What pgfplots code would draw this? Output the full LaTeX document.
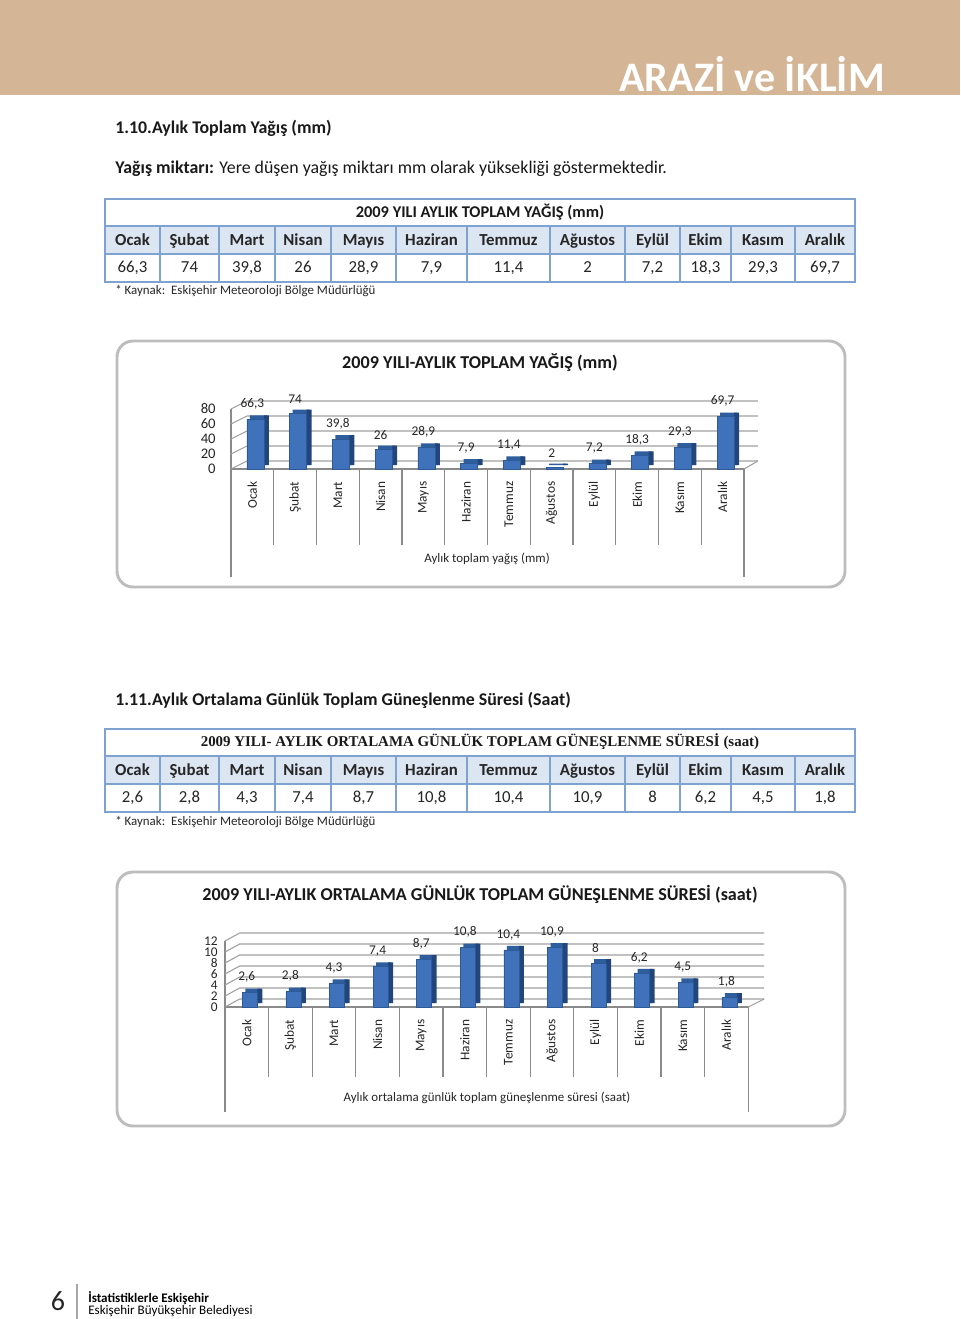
\documentclass[border=0pt]{standalone}
\usepackage{fontspec}
\setmainfont{Carlito}
\newfontfamily\cambria{Liberation Serif}
\usepackage{pgfplots}
\pgfplotsset{compat=1.18}
\definecolor{headtan}{HTML}{D4B595}
\definecolor{tblue}{HTML}{7FA3D0}
\definecolor{hdrblue}{HTML}{DCE6F2}
\definecolor{boxgray}{HTML}{BDBDBD}
\definecolor{axisgray}{HTML}{8A8A8A}
\definecolor{gridc}{HTML}{A0A0A0}
\definecolor{barfront}{HTML}{3F72BA}
\definecolor{bartop}{HTML}{2F5E9E}
\definecolor{barside}{HTML}{22467C}
\definecolor{baredge}{HTML}{2B5A96}
\newcommand\fs[1]{\fontsize{#1}{#1}\selectfont}

% table frame: #1 = top y (px)
\newcommand\tableframe[1]{%
  \fill[hdrblue] (105,#1+27) rectangle (855,#1+55);
  \draw[tblue, line width=0.9pt] (105,#1+27) -- (855,#1+27) (105,#1+55) -- (855,#1+55);
  \foreach \c in {160,219,275,331,396,467,550,625,680,731,795}
    \draw[tblue, line width=0.9pt] (\c,#1+27) -- (\c,#1+83);
  \draw[tblue, line width=1.4pt] (105,#1) rectangle (855,#1+83);
}
% header row: #1 = header y
\newcommand\tablerows[1]{%
  \foreach \a/\b/\m in {105/160/Ocak,160/219/Şubat,219/275/Mart,275/331/Nisan,331/396/Mayıs,396/467/Haziran,467/550/Temmuz,550/625/Ağustos,625/680/Eylül,680/731/Ekim,731/795/Kasım,795/855/Aralık}
    \node[font=\fs{12.6}\bfseries, text=black!85, text height=9pt, text depth=2.5pt] at ({(\a+\b)/2},#1) {\m};
}

\pgfplotsset{
  barchart/.style={
    anchor=origin, xmin=-0.5, xmax=11.5, ymin=0, clip=false,
    axis x line*=bottom, axis y line*=left,
    axis line style={draw=axisgray, line width=0.8pt, -},
    xtick={0,...,11},
    xticklabels={Ocak,Şubat,Mart,Nisan,Mayıs,Haziran,Temmuz,Ağustos,Eylül,Ekim,Kasım,Aralık},
    minor xtick={0.5,1.5,...,10.5},
    tick align=outside,
    major tick length=0pt,
    minor tick style={draw=axisgray, line width=0.8pt},
    xticklabel style={rotate=90, anchor=east, font=\fs{10}, text=black!85},
    xticklabel shift=6pt,
    /pgf/number format/assume math mode=true,
    /pgf/number format/use comma,
    /pgf/number format/fixed,
  },
  valuelabels/.style={nodes near coords,
    every node near coord/.append style={font=\fs{10}, text=black!85, yshift=4pt}},
}

\begin{document}
\begin{tikzpicture}[x=0.75pt, y=-0.75pt]
\useasboundingbox (0,0) rectangle (960,1319);
\fill[white] (0,0) rectangle (960,1319);

% header band
\fill[headtan] (0,0) rectangle (960,95);
\node[anchor=base east, inner sep=0, text=white, font=\fs{31.5}\bfseries] at (885,92) {ARAZİ ve İKLİM};

% section 1.10
\node[anchor=west, inner sep=0, font=\fs{13.4}\bfseries, text=black!90] at (115,128) {1.10.Aylık Toplam Yağış (mm)};
\node[anchor=west, inner sep=0, font=\fs{13.4}, text=black!90] at (115,169) {\textbf{Yağış miktarı:} Yere düşen yağış miktarı mm olarak yüksekliği göstermektedir.};

\tableframe{199}
\node[font=\fs{12.3}\bfseries, text=black!90] at (480,212) {2009 YILI AYLIK TOPLAM YAĞIŞ (mm)};
\tablerows{241}
\foreach \a/\b/\v in {105/160/{66,3},160/219/74,219/275/{39,8},275/331/26,331/396/{28,9},396/467/{7,9},467/550/{11,4},550/625/2,625/680/{7,2},680/731/{18,3},731/795/{29,3},795/855/{69,7}}
  \node[font=\fs{12.6}, text=black!85, text height=9pt, text depth=2.5pt] at ({(\a+\b)/2},268) {\v};
\node[anchor=west, inner sep=0, font=\fs{9.7}, text=black!85] at (115,291) {* Kaynak:\ \ Eskişehir Meteoroloji Bölge Müdürlüğü};

% chart 1
\draw[boxgray, line width=2.2pt, rounded corners=12pt] (117,341) rectangle (845,587);
\node[font=\fs{13.6}\bfseries, text=black!90] at (480,363) {2009 YILI-AYLIK TOPLAM YAĞIŞ (mm)};
\node[font=\fs{9.7}, text=black!85] at (487,559) {Aylık toplam yağış (mm)};
\coordinate (o1) at (252.4,469);
\begin{axis}[barchart, at={(o1)},
  x=32.06pt, y=0.5625pt, ymax=80,
  ytick={0,20,...,80},
  minor tick length=57pt,
  yticklabel style={font=\fs{11}, text=black!85},
  yticklabel shift=8pt,
  /pgf/number format/precision=1]
  \pgfplotsinvokeforeach{0,20,40,60,80}{
    \draw[gridc, line width=0.8pt] (axis cs:-0.5,#1) -- ++(12pt,6pt) -- ([shift={(10.5pt,6pt)}]axis cs:11.5,#1);
  }
  \draw[gridc, line width=0.8pt] (axis cs:11.5,0) -- ++(10.5pt,6pt);
  \draw[axisgray, line width=0.8pt] (axis cs:-0.5,0) -- ++(0pt,-81pt);
  \draw[axisgray, line width=0.8pt] (axis cs:11.5,0) -- ++(0pt,-81pt);
  \addplot[ybar, bar width=12.75pt, bar shift=4.5pt, fill=bartop, draw=none, yshift=3pt]
    coordinates {(0,66.3) (1,74) (2,39.8) (3,26) (4,28.9) (5,7.9) (6,11.4) (7,2) (8,7.2) (9,18.3) (10,29.3) (11,69.7)};
  \addplot[ybar, bar width=3.75pt, bar shift=10.5pt, fill=barside, draw=none, yshift=3pt]
    coordinates {(0,66.3) (1,74) (2,39.8) (3,26) (4,28.9) (5,7.9) (6,11.4) (7,2) (8,7.2) (9,18.3) (10,29.3) (11,69.7)};
  \addplot[ybar, bar width=12.75pt, bar shift=2.25pt, fill=barfront, draw=baredge, line width=0.4pt, valuelabels]
    coordinates {(0,66.3) (1,74) (2,39.8) (3,26) (4,28.9) (5,7.9) (6,11.4) (7,2) (8,7.2) (9,18.3) (10,29.3) (11,69.7)};
\end{axis}

% section 1.11
\node[anchor=west, inner sep=0, font=\fs{13.4}\bfseries, text=black!90] at (115,700) {1.11.Aylık Ortalama Günlük Toplam Güneşlenme Süresi (Saat)};
\tableframe{729}
\node[font=\cambria\fs{11.2}\bfseries, text=black!90] at (480,742) {2009 YILI- AYLIK ORTALAMA GÜNLÜK TOPLAM GÜNEŞLENME SÜRESİ (saat)};
\tablerows{771}
\foreach \a/\b/\v in {105/160/{2,6},160/219/{2,8},219/275/{4,3},275/331/{7,4},331/396/{8,7},396/467/{10,8},467/550/{10,4},550/625/{10,9},625/680/8,680/731/{6,2},731/795/{4,5},795/855/{1,8}}
  \node[font=\fs{12.6}, text=black!85, text height=9pt, text depth=2.5pt] at ({(\a+\b)/2},798) {\v};
\node[anchor=west, inner sep=0, font=\fs{9.7}, text=black!85] at (115,822) {* Kaynak:\ \ Eskişehir Meteoroloji Bölge Müdürlüğü};

% chart 2
\draw[boxgray, line width=2.2pt, rounded corners=12pt] (117,872) rectangle (845,1126);
\node[font=\fs{13.6}\bfseries, text=black!90] at (480,894) {2009 YILI-AYLIK ORTALAMA GÜNLÜK TOPLAM GÜNEŞLENME SÜRESİ (saat)};
\node[font=\fs{9.7}, text=black!85] at (487,1098) {Aylık ortalama günlük toplam güneşlenme süresi (saat)};
\coordinate (o2) at (246.8,1007);
\begin{axis}[barchart, at={(o2)},
  x=32.7pt, y=4.125pt, ymax=12,
  ytick={0,2,...,12},
  minor tick length=52.5pt,
  yticklabel style={font=\fs{10}, text=black!85},
  yticklabel shift=2pt,
  /pgf/number format/precision=1]
  \pgfplotsinvokeforeach{0,2,4,6,8,10,12}{
    \draw[gridc, line width=0.8pt] (axis cs:-0.5,#1) -- ++(11pt,6pt) -- ([shift={(12pt,6pt)}]axis cs:11.5,#1);
  }
  \draw[gridc, line width=0.8pt] (axis cs:11.5,0) -- ++(12pt,6pt);
  \draw[axisgray, line width=0.8pt] (axis cs:-0.5,0) -- ++(0pt,-78.75pt);
  \draw[axisgray, line width=0.8pt] (axis cs:11.5,0) -- ++(0pt,-78.75pt);
  \addplot[ybar, bar width=11.25pt, bar shift=4.5pt, fill=bartop, draw=none, yshift=3pt]
    coordinates {(0,2.6) (1,2.8) (2,4.3) (3,7.4) (4,8.7) (5,10.8) (6,10.4) (7,10.9) (8,8) (9,6.2) (10,4.5) (11,1.8)};
  \addplot[ybar, bar width=3.75pt, bar shift=9.75pt, fill=barside, draw=none, yshift=3pt]
    coordinates {(0,2.6) (1,2.8) (2,4.3) (3,7.4) (4,8.7) (5,10.8) (6,10.4) (7,10.9) (8,8) (9,6.2) (10,4.5) (11,1.8)};
  \addplot[ybar, bar width=11.25pt, bar shift=2.25pt, fill=barfront, draw=baredge, line width=0.4pt, valuelabels]
    coordinates {(0,2.6) (1,2.8) (2,4.3) (3,7.4) (4,8.7) (5,10.8) (6,10.4) (7,10.9) (8,8) (9,6.2) (10,4.5) (11,1.8)};
\end{axis}

% footer
\node[font=\fs{21}, text=black!85] at (58,1301) {6};
\draw[gray!70, line width=2.2pt] (77,1284) -- (77,1319);
\node[anchor=west, inner sep=0, font=\fs{9.8}\bfseries] at (88,1298) {İstatistiklerle Eskişehir};
\node[anchor=west, inner sep=0, font=\fs{9.8}] at (88,1311) {Eskişehir Büyükşehir Belediyesi};
\end{tikzpicture}
\end{document}
